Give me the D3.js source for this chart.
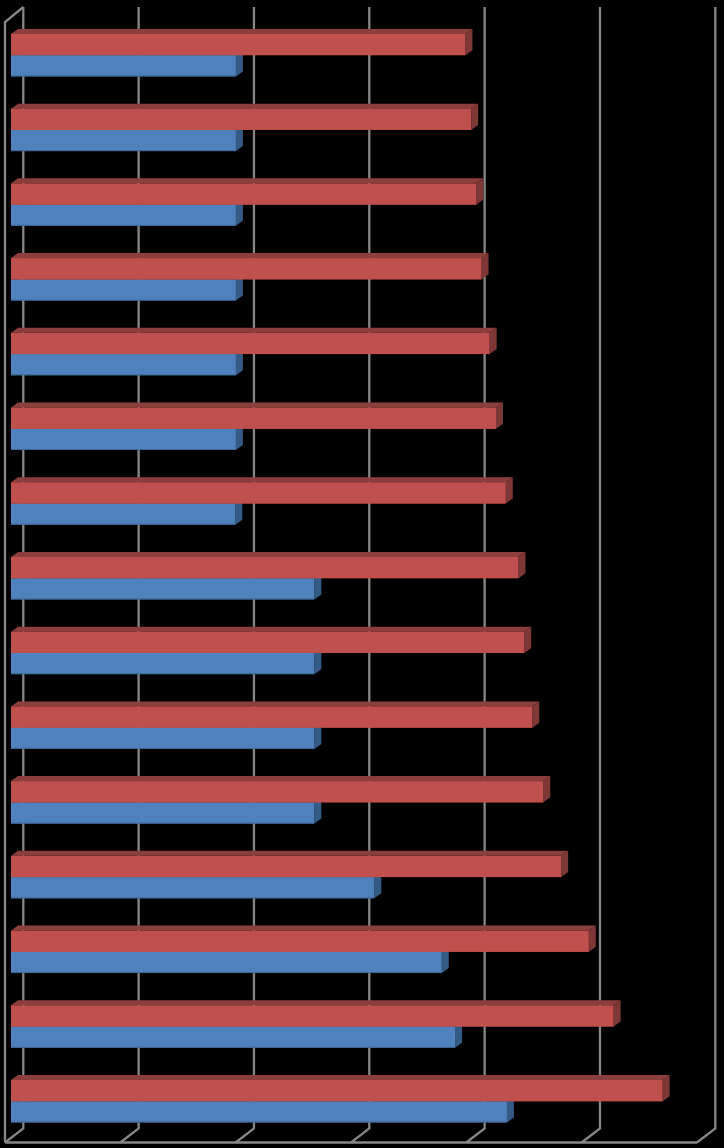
<!DOCTYPE html>
<html><head><meta charset="utf-8">
<style>html,body{margin:0;padding:0;background:#000}svg{display:block}</style>
<script src="https://cdn.jsdelivr.net/npm/d3@7/dist/d3.min.js"></script>
</head><body><svg id="c" width="724" height="1148"></svg>
<script>
const categories = d3.range(1, 16).map(String);
const seriesNames = ["Red", "Blue"];
const redValues  = [39.4,39.9,40.35,40.8,41.5,42.05,42.9,44.0,44.5,45.2,46.15,47.7,50.1,52.25,56.5];
const blueValues = [19.5,19.5,19.5,19.5,19.5,19.5,19.45,26.3,26.3,26.3,26.3,31.5,37.35,38.5,43.0];
const tickValues = [0,10,20,30,40,50,60];
const W = 724, H = 1148;
const depth = {dx:7, dy:5};
const wall = {dx:18.3, dy:14, left:6, top:7, bottom:1128.5, floor:1142.5};
const fills = {
  Red:  {front:"#C0504D", top:"#8C3E3C", side:"#7D3836", edge:"#C0504D"},
  Blue: {front:"#4F81BD", top:"#3A6396", side:"#345A86", edge:"#3F6797"}
};
const svg = d3.select("#c");
svg.append("rect").attr("width",W).attr("height",H).attr("fill","#000");
const x = d3.scaleLinear().domain([0,60]).range([11,703]);
const y = d3.scaleBand().domain(categories).range([17.8,1138.6]).paddingInner(0.4314).paddingOuter(0.2157);
const y1 = d3.scaleBand().domain(seriesNames).range([0,y.bandwidth()]);

const grid = svg.append("g").attr("fill","none").attr("stroke","#868686").attr("stroke-width",2.3);
const fx = t => x(t)-wall.left, bx = t => fx(t)+wall.dx;
tickValues.forEach(t=>{
  grid.append("path").attr("d",d3.line()([[fx(t),wall.floor],[bx(t),wall.bottom],[bx(t),wall.top]]));
});
grid.append("path").attr("d",d3.line()([[fx(0),wall.floor],[fx(0),wall.top+15],[bx(0),wall.top]]));
grid.append("path").attr("d",d3.line()([[fx(0),wall.floor],[fx(60),wall.floor]]));

const rows = svg.append("g").selectAll("g").data(categories).join("g");
function bar(g, name, v, cat){
  const c = fills[name], x0=x(0), x1=x(v), yt=y(cat)+y1(name), h=y1.bandwidth();
  const poly = pts => pts.map(p=>p.join(",")).join(" ");
  g.append("polygon").attr("fill",c.top).attr("points",poly([[x0,yt],[x0+depth.dx,yt-depth.dy],[x1+depth.dx,yt-depth.dy],[x1,yt]]));
  g.append("polygon").attr("fill",c.side).attr("points",poly([[x1,yt],[x1+depth.dx,yt-depth.dy],[x1+depth.dx,yt+h-depth.dy],[x1,yt+h]]));
  g.append("rect").attr("x",x0).attr("y",yt).attr("width",x1-x0).attr("height",h).attr("fill",c.front);
  g.append("rect").attr("x",x0).attr("y",yt+h-1).attr("width",x1-x0).attr("height",1).attr("fill",c.edge);
}
rows.each(function(cat,i){
  const g = d3.select(this);
  bar(g,"Blue",blueValues[i],cat);
  bar(g,"Red",redValues[i],cat);
});
</script></body></html>
